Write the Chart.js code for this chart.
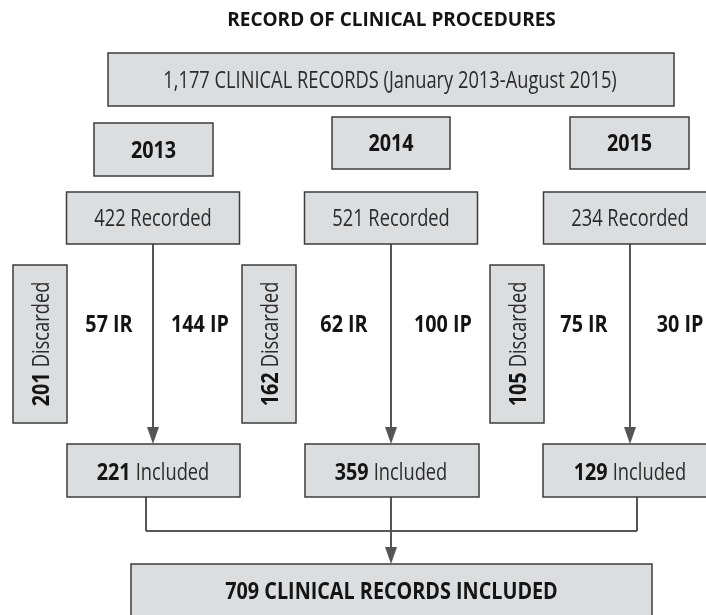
<!DOCTYPE html>
<html>
<head>
<meta charset="utf-8">
<script src="https://cdn.jsdelivr.net/npm/chart.js@4"></script>
<style>
  html, body { margin: 0; padding: 0; background: #ffffff; }
  canvas { display: block; }
</style>
</head>
<body>
<canvas id="flujo" width="706" height="615"></canvas>
<script>
// Datos del diagrama
const chartTitle = "RECORD OF CLINICAL PROCEDURES";
const totalRecords = "1,177";
const periodLabel = "CLINICAL RECORDS (January 2013-August 2015)";
const years = ["2013", "2014", "2015"];
const recorded = [422, 521, 234];
const discarded = [201, 162, 105];
const irCounts = [57, 62, 75];
const ipCounts = [144, 100, 30];
const included = [221, 359, 129];
const totalIncluded = 709;

// Geometria (unidades de la escala, 0..706 x 0..615)
const colX = [153, 391, 630];
const topBox = [108, 674, 53, 106];
const yearBoxes = [[94, 213, 123, 176], [332, 450, 117, 169], [570, 689, 117, 169]];
const recordedRow = { w: 173, y0: 192, y1: 244 };
const discardLeft = [13, 242, 490];
const discardRow = { w: 54, y0: 265, y1: 423 };
const irX = [109, 344, 584];
const ipX = [200, 443, 680];
const splitY = 324;
const includedBoxes = [[67, 240], [305, 479], [543, 716]];
const includedRow = { y0: 444, y1: 497 };
const joinX = [146, 391, 637];
const joinY = 531;
const finalBox = [131, 652, 564, 622];
const finalTextY = 591;

const FONT = '"Open Sans", "DejaVu Sans", sans-serif';
const SIZE = 23;
const SQ_NORMAL = 0.795;   // imita la letra condensada
const SQ_BOLD = 0.86;
const BOX_FILL = "#dcdddf";
const BOX_LINE = "#3d3d3d";
const LINK = "#555555";

function drawText(ctx, parts, cx, cy, size, rotated, sqOverride) {
  ctx.save();
  ctx.translate(cx, cy);
  if (rotated) ctx.rotate(-Math.PI / 2);
  ctx.textBaseline = "alphabetic";
  ctx.textAlign = "left";
  const sq = parts.map(p => sqOverride || (p.bold ? SQ_BOLD : SQ_NORMAL));
  const widths = parts.map((p, i) => {
    ctx.font = (p.bold ? "700 " : "400 ") + size + "px " + FONT;
    return ctx.measureText(p.t).width * sq[i];
  });
  let x = -widths.reduce((a, b) => a + b, 0) / 2;
  const base = size * 0.357;
  parts.forEach((p, i) => {
    ctx.save();
    ctx.translate(x, 0);
    ctx.scale(sq[i], 1);
    ctx.font = (p.bold ? "700 " : "400 ") + size + "px " + FONT;
    ctx.fillStyle = p.bold ? "#141414" : "#2b2b2b";
    ctx.fillText(p.t, 0, base);
    ctx.restore();
    x += widths[i];
  });
  ctx.restore();
}

const flowPlugin = {
  id: "flowPlugin",
  beforeDraw(chart) {
    const ctx = chart.ctx;
    ctx.save();
    ctx.fillStyle = "#ffffff";
    ctx.fillRect(0, 0, chart.width, chart.height);
    ctx.restore();
  },
  afterDraw(chart) {
    const ctx = chart.ctx;
    const X = v => chart.scales.x.getPixelForValue(v);
    const Y = v => chart.scales.y.getPixelForValue(v);

    function box(x0, x1, y0, y1) {
      ctx.save();
      ctx.fillStyle = BOX_FILL;
      ctx.strokeStyle = BOX_LINE;
      ctx.lineWidth = 1.5;
      ctx.fillRect(X(x0), Y(y0), X(x1) - X(x0), Y(y1) - Y(y0));
      ctx.strokeRect(X(x0), Y(y0), X(x1) - X(x0), Y(y1) - Y(y0));
      ctx.restore();
    }
    function line(pts) {
      ctx.save();
      ctx.strokeStyle = LINK;
      ctx.lineWidth = 2;
      ctx.beginPath();
      pts.forEach((p, i) => i ? ctx.lineTo(X(p[0]), Y(p[1])) : ctx.moveTo(X(p[0]), Y(p[1])));
      ctx.stroke();
      ctx.restore();
    }
    function arrowHead(x, tipY) {
      ctx.save();
      ctx.fillStyle = LINK;
      ctx.beginPath();
      ctx.moveTo(X(x) - 6, Y(tipY) - 17);
      ctx.lineTo(X(x) + 6, Y(tipY) - 17);
      ctx.lineTo(X(x), Y(tipY));
      ctx.closePath();
      ctx.fill();
      ctx.restore();
    }

    // Lineas y flechas
    colX.forEach((x, i) => {
      line([[x, recordedRow.y1], [x, includedRow.y0 - 10]]);
      arrowHead(x, includedRow.y0);
      line([[joinX[i], includedRow.y1], [joinX[i], joinY]]);
    });
    line([[joinX[0], joinY], [joinX[2], joinY]]);
    line([[joinX[1], joinY], [joinX[1], finalBox[2] - 10]]);
    arrowHead(joinX[1], finalBox[2]);

    // Titulo
    drawText(ctx, [{ t: chartTitle, bold: true }], X(391.5), Y(19.5), 19, false, 1.0);

    // Caja superior
    box(...topBox);
    drawText(ctx, [{ t: totalRecords + " " + periodLabel }], X((topBox[0] + topBox[1]) / 2 - 1), Y(80), SIZE);

    years.forEach((yr, i) => {
      const yb = yearBoxes[i];
      box(...yb);
      drawText(ctx, [{ t: yr, bold: true }], X((yb[0] + yb[1]) / 2), Y((yb[2] + yb[3]) / 2), SIZE);

      const rx0 = colX[i] - recordedRow.w / 2;
      box(rx0, rx0 + recordedRow.w, recordedRow.y0, recordedRow.y1);
      drawText(ctx, [{ t: recorded[i] + " Recorded" }], X(colX[i]), Y((recordedRow.y0 + recordedRow.y1) / 2), SIZE);

      const dx0 = discardLeft[i];
      box(dx0, dx0 + discardRow.w, discardRow.y0, discardRow.y1);
      drawText(ctx, [{ t: discarded[i] + " ", bold: true }, { t: "Discarded" }],
        X(dx0 + discardRow.w / 2 + 1), Y((discardRow.y0 + discardRow.y1) / 2), SIZE, true);

      drawText(ctx, [{ t: irCounts[i] + " IR", bold: true }], X(irX[i]), Y(splitY), SIZE);
      drawText(ctx, [{ t: ipCounts[i] + " IP", bold: true }], X(ipX[i]), Y(splitY), SIZE);

      const ib = includedBoxes[i];
      box(ib[0], ib[1], includedRow.y0, includedRow.y1);
      drawText(ctx, [{ t: included[i] + " ", bold: true }, { t: "Included" }],
        X(colX[i]), Y((includedRow.y0 + includedRow.y1) / 2 + 1), SIZE);
    });

    // Caja final
    box(...finalBox);
    drawText(ctx, [{ t: totalIncluded + " CLINICAL RECORDS INCLUDED", bold: true }], X(391.5), Y(finalTextY), SIZE);
  }
};

new Chart(document.getElementById("flujo"), {
  type: "scatter",
  data: { datasets: [] },
  options: {
    responsive: false,
    animation: false,
    layout: { padding: 0 },
    plugins: {
      legend: { display: false },
      tooltip: { enabled: false }
    },
    scales: {
      x: { type: "linear", min: 0, max: 706, display: false },
      y: { type: "linear", min: 0, max: 615, reverse: true, display: false }
    }
  },
  plugins: [flowPlugin]
});
</script>
</body>
</html>
